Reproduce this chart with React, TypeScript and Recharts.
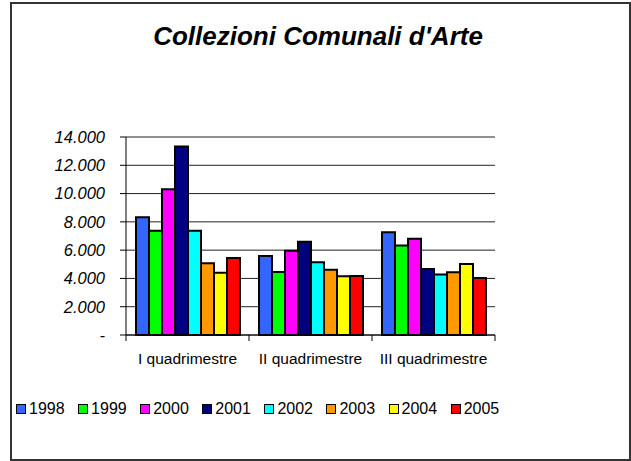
import React from 'react';
import { BarChart, Bar, XAxis, YAxis, CartesianGrid } from 'recharts';

const categories = ['I quadrimestre', 'II quadrimestre', 'III quadrimestre'];
const years = ['1998', '1999', '2000', '2001', '2002', '2003', '2004', '2005'];
const colors = ['#3366FF', '#00FF00', '#FF00FF', '#000080', '#00FFFF', '#FF9900', '#FFFF00', '#FF0000'];

// visitors per year, one array per quadrimestre (same order as years)
const q1 = [8320, 7380, 10300, 13320, 7380, 5070, 4410, 5450];
const q2 = [5590, 4460, 5960, 6600, 5140, 4620, 4150, 4170];
const q3 = [7260, 6320, 6810, 4670, 4270, 4430, 5020, 4030];

const yTicks = [0, 2000, 4000, 6000, 8000, 10000, 12000, 14000];

const font = '"Liberation Sans", Arial, sans-serif';

const data = categories.map((name, i) => {
  const vals = [q1, q2, q3][i];
  const row: any = { name };
  years.forEach((y, j) => {
    row[y] = vals[j];
  });
  return row;
});

const fmtY = (v: number) => (v === 0 ? '-' : `${Math.floor(v / 1000)}.000`);

const CategoryTick = (props: any) => {
  const { x, y, payload, width, visibleTicksCount, index } = props;
  const half = width && visibleTicksCount ? width / visibleTicksCount / 2 : payload.offset;
  const axisY = y - 8;
  return (
    <g>
      <line x1={x - half} x2={x - half} y1={axisY} y2={axisY + 6} stroke="#000" />
      {index === visibleTicksCount - 1 && (
        <line x1={x + half} x2={x + half} y1={axisY} y2={axisY + 6} stroke="#000" />
      )}
      <text x={x} y={y} dy={21} textAnchor="middle" fill="#000" style={{ fontSize: 15.5, fontFamily: font }}>
        {payload.value}
      </text>
    </g>
  );
};

export default function App() {
  return (
    <div style={{ position: 'absolute', left: 0, top: 0, width: 631, height: 461, background: '#fff', fontFamily: font }}>
      <div
        style={{
          position: 'absolute',
          left: 10,
          top: 2,
          width: 621,
          height: 459,
          boxSizing: 'border-box',
          border: '2px solid #333',
        }}
      />
      <div
        style={{
          position: 'absolute',
          left: 0,
          width: 636,
          top: 22,
          textAlign: 'center',
          fontSize: 26,
          lineHeight: '29px',
          fontWeight: 'bold',
          fontStyle: 'italic',
          color: '#000',
        }}
      >
        Collezioni Comunali d'Arte
      </div>
      <div style={{ position: 'absolute', left: 0, top: 0 }}>
        <BarChart
          width={631}
          height={461}
          data={data}
          margin={{ top: 137, right: 136, left: 0, bottom: 96 }}
          barGap={0}
          barCategoryGap={10}
        >
          <CartesianGrid horizontal vertical={false} stroke="#222" />
          <XAxis
            dataKey="name"
            height={30}
            axisLine={{ stroke: '#000' }}
            tickLine={false}
            tickSize={6}
            tickMargin={2}
            tick={<CategoryTick />}
            interval={0}
          />
          <YAxis
            width={126}
            domain={[0, 14000]}
            ticks={yTicks}
            interval={0}
            tickFormatter={fmtY}
            axisLine={{ stroke: '#000' }}
            tickLine={{ stroke: '#000' }}
            tickSize={6}
            tickMargin={15}
            tick={{ fill: '#000', fontSize: 16.5, fontStyle: 'italic', fontFamily: font }}
          />
          {years.map((y, i) => (
            <Bar key={y} dataKey={y} fill={colors[i]} stroke="#000" strokeWidth={2} isAnimationActive={false} />
          ))}
        </BarChart>
      </div>
      <div style={{ position: 'absolute', left: 16, top: 400, display: 'flex', alignItems: 'center', fontSize: 16, color: '#000' }}>
        {years.map((y, i) => (
          <div key={y} style={{ display: 'flex', alignItems: 'center', marginRight: 13.5 }}>
            <div style={{ width: 10, height: 10, boxSizing: 'border-box', border: '1.5px solid #000', background: colors[i], marginRight: 3 }} />
            <span>{y}</span>
          </div>
        ))}
      </div>
    </div>
  );
}
